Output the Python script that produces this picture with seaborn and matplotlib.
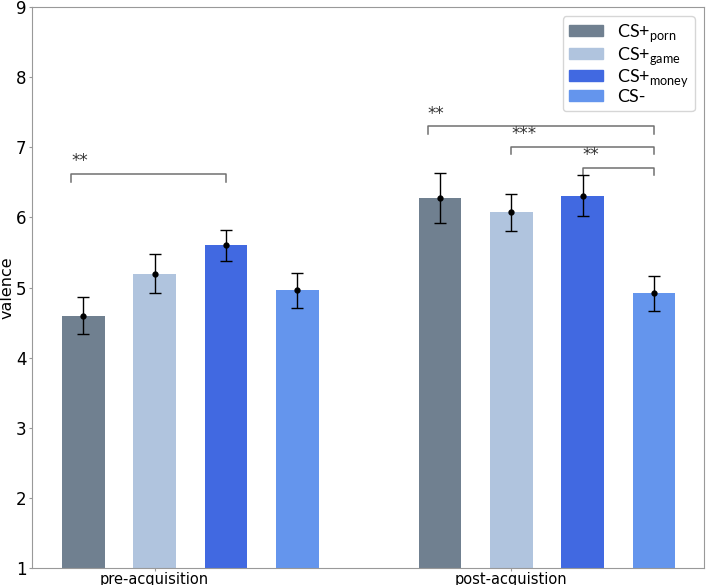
import matplotlib
matplotlib.use("Agg")
import matplotlib.pyplot as plt
import numpy as np
import pandas as pd
import seaborn as sns

# Werte
phases = ['pre-acquisition', 'post-acquistion']
conditions = ['CS+porn', 'CS+game', 'CS+money', 'CS-']
legend_labels = [r'CS+$_{\mathregular{porn}}$', r'CS+$_{\mathregular{game}}$',
                 r'CS+$_{\mathregular{money}}$', 'CS-']
colors = ['#708090', '#B0C4DE', '#4169E1', '#6495ED']

pre_means = [4.60, 5.20, 5.60, 4.96]
pre_sem = [0.26, 0.28, 0.22, 0.25]
post_means = [6.28, 6.07, 6.31, 4.92]
post_sem = [0.36, 0.26, 0.29, 0.25]

# (phase, bar a, bar b, height, label)
sig = [(0, 0, 2, 6.62, '**'),
       (1, 0, 3, 7.30, '**'),
       (1, 1, 3, 7.01, '***'),
       (1, 2, 3, 6.71, '**')]

df = pd.DataFrame({
    'phase': np.repeat(phases, len(conditions)),
    'condition': conditions * len(phases),
    'valence': pre_means + post_means,
    'sem': pre_sem + post_sem,
})

fig, ax = plt.subplots(figsize=(7.09, 5.85), dpi=100)
sns.barplot(data=df, x='phase', y='valence', hue='condition', order=phases,
            hue_order=conditions, palette=colors, saturation=1, width=0.8, gap=0.4,
            errorbar=None, legend=False, ax=ax)

bar_conts = list(ax.containers)
centers = {}
for j, cont in enumerate(bar_conts):
    for i, bar in enumerate(cont):
        xc = bar.get_x() + bar.get_width() / 2
        centers[(i, j)] = xc
        row = df[(df['phase'] == phases[i]) & (df['condition'] == conditions[j])].iloc[0]
        ax.errorbar(xc, row['valence'], yerr=row['sem'], fmt='o', color='black',
                    markersize=3.5, elinewidth=1, capsize=4, capthick=1, zorder=5)

# Signifikanzklammern
for ph, a, b, h, lab in sig:
    x1 = centers[(ph, a)] - (0.034 if a == 0 else 0)
    x2 = centers[(ph, b)]
    ax.plot([x1, x1, x2, x2], [h - 0.11, h, h, h - 0.11], color='#707070', lw=1.1)
    ax.text(x1, h + 0.05, lab, ha='left', va='bottom', fontsize=12, color='#333333')

ax.set_ylim(1, 9)
ax.set_xlim(-0.444, 1.44)
ax.set_xticks([centers[(0, 1)], centers[(1, 1)]])
ax.set_xticklabels(phases, fontsize=10.5)
ax.tick_params(axis='y', labelsize=12, length=2.5, pad=1.5, color='#999999')
ax.tick_params(axis='x', length=2, pad=0.5, color='#999999')
ax.set_xlabel('')
ax.set_ylabel('valence', fontsize=11.5, labelpad=1)
for s in ax.spines.values():
    s.set_color('#999999')

handles = [plt.Rectangle((0, 0), 1, 1, color=c) for c in colors]
ax.legend(handles, legend_labels, loc='upper right',
          prop={'family': ['Lato', 'DejaVu Sans'], 'size': 13},
          handlelength=1.9, handleheight=0.55, labelspacing=0.02, borderpad=0.35,
          handletextpad=0.75, borderaxespad=0.5)

fig.subplots_adjust(left=0.045, right=0.993, top=0.988, bottom=0.029)
fig.savefig('out.png', dpi=100)
